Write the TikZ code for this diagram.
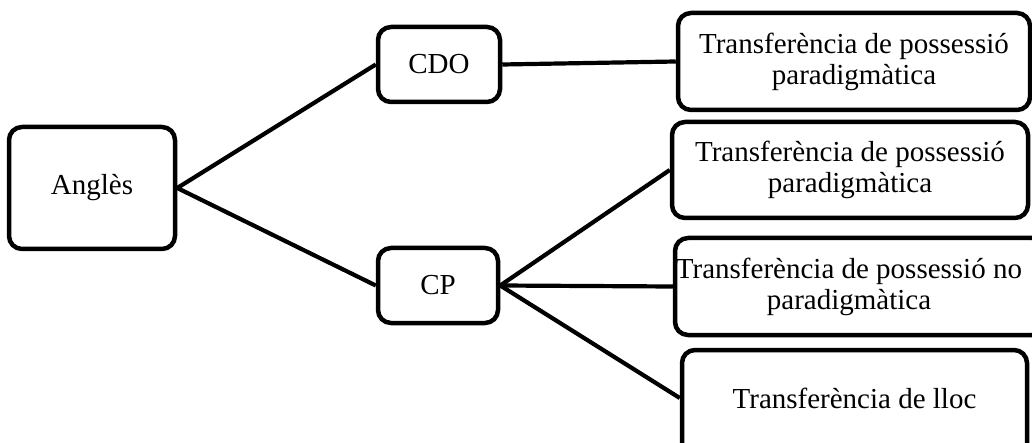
\documentclass[tikz,border=0pt]{standalone}
\usepackage{fontspec}
\setmainfont{Liberation Serif}
\begin{document}
\begin{tikzpicture}[x=1pt,y=-1pt,
  box/.style={draw=black, line width=4.5pt, rounded corners=13pt, rectangle,
    inner sep=0pt, align=center, font=\fontsize{29}{31}\selectfont},
  label/.style={align=center, inner sep=0pt, font=\fontsize{29}{31}\selectfont},
  link/.style={line width=4.2pt}]
  \useasboundingbox (0,0) rectangle (1032,443);
  % left root
  \node[box, minimum width=166pt, minimum height=122pt] (ang) at (92,188) {Anglès};
  % middle level
  \node[box, minimum width=122pt, minimum height=75pt] (cdo) at (439,64.5) {CDO};
  \node[box, minimum width=120pt, minimum height=75pt] (cp) at (438,285.5) {CP};
  % right level
  \node[box, minimum width=352pt, minimum height=97pt] (b1) at (854,61.5)
    {Transferència de possessió\\paradigmàtica};
  \node[box, minimum width=356pt, minimum height=96pt] (b2) at (850,170)
    {Transferència de possessió\\paradigmàtica};
  \node[box, minimum width=370pt, minimum height=97pt] (b3) at (860,286.5) {};
  \node[label] (b3t) at (849,286.5)
    {Transferència de possessió no\\paradigmàtica};
  \node[box, minimum width=345pt, minimum height=120pt] (b4) at (854.5,410) {};
  \node[label] (b4t) at (854.5,398) {Transferència de lloc};
  % connectors
  \draw[link] (ang.east) -- (cdo.west);
  \draw[link] (ang.east) -- (cp.west);
  \draw[link] (cdo.east) -- (b1.west);
  \draw[link] (cp.east) -- (b2.west);
  \draw[link] (cp.east) -- (b3.west);
  \draw[link] (cp.east) -- (b4t -| b4.west);
\end{tikzpicture}
\end{document}
